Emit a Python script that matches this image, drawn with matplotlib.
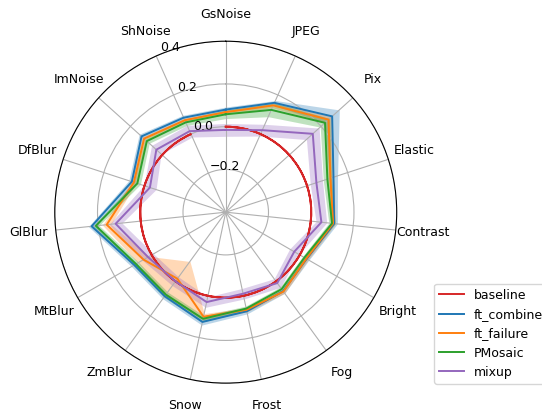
import numpy as np
import matplotlib
matplotlib.use("Agg")
import matplotlib.pyplot as plt

plt.rcParams['font.size'] = 9

categories = ['GsNoise', 'JPEG', 'Pix', 'Elastic', 'Contrast', 'Bright', 'Fog',
              'Frost', 'Snow', 'ZmBlur', 'MtBlur', 'GlBlur', 'DfBlur', 'ImNoise', 'ShNoise']

baseline = [0.0] * 15

ft_combine = [0.080, 0.160, 0.270, 0.130, 0.110, 0.037, 0.057, 0.074, 0.125, 0.086,
              0.094, 0.231, 0.062, 0.130, 0.084]
ft_combine_std = [0.012, 0.012, 0.045, 0.020, 0.015, 0.012, 0.012, 0.012, 0.015, 0.015,
                  0.015, 0.015, 0.015, 0.015, 0.012]

ft_failure = [0.068, 0.147, 0.247, 0.115, 0.105, 0.035, 0.059, 0.067, 0.100, -0.015,
              0.044, 0.160, 0.052, 0.114, 0.071]
ft_failure_std = [0.010, 0.012, 0.020, 0.015, 0.012, 0.010, 0.010, 0.010, 0.015, 0.100,
                  0.030, 0.020, 0.012, 0.012, 0.010]

pmosaic = [0.058, 0.124, 0.225, 0.100, 0.100, 0.025, 0.045, 0.061, 0.110, 0.077,
           0.085, 0.211, 0.035, 0.097, 0.060]
pmosaic_std = [0.020, 0.035, 0.030, 0.020, 0.015, 0.010, 0.012, 0.012, 0.015, 0.015,
               0.015, 0.015, 0.015, 0.015, 0.015]

mixup = [-0.015, 0.020, 0.148, 0.046, 0.050, -0.030, 0.010, -0.010, 0.030, 0.000,
         0.020, 0.118, -0.027, 0.037, 0.015]
mixup_std = [0.030, 0.030, 0.040, 0.030, 0.025, 0.025, 0.025, 0.025, 0.025, 0.025,
             0.030, 0.030, 0.030, 0.030, 0.030]

series = [
    ('ft_combine', ft_combine, ft_combine_std, 'tab:blue'),
    ('ft_failure', ft_failure, ft_failure_std, 'tab:orange'),
    ('PMosaic', pmosaic, pmosaic_std, 'tab:green'),
    ('mixup', mixup, mixup_std, 'tab:purple'),
]

n = len(categories)
theta = np.linspace(0, 2 * np.pi, n, endpoint=False)
theta_c = np.append(theta, theta[0])


def closed(v):
    v = np.asarray(v, dtype=float)
    return np.append(v, v[0])


fig = plt.figure(figsize=(5.42, 4.12), dpi=100)
ax = fig.add_axes([0.101, 0.070, 0.631, 0.830], projection='polar')
ax.set_theta_zero_location('N')
ax.set_theta_direction(-1)

base_line, = ax.plot(theta_c, closed(baseline), color='tab:red', lw=1.4, label='baseline')
base_line.get_path()._interpolation_steps = 60

for name, mean, std, color in series:
    m = closed(mean)
    s = closed(std)
    ax.plot(theta_c, m, color=color, lw=1.4, label=name)
    ax.fill_between(theta_c, m - s, m + s, color=color, alpha=0.3, lw=0)

ax.set_ylim(-0.4, 0.4)
ax.set_yticks([-0.2, 0.0, 0.2, 0.4])
ax.set_rlabel_position(337.5)
ax.set_xticks(theta)
ax.set_xticklabels(categories)
ax.tick_params(axis='x', pad=9)

fig.legend(loc='upper left', bbox_to_anchor=(0.801, 0.311), borderaxespad=0)

fig.savefig('out.png', dpi=100)
